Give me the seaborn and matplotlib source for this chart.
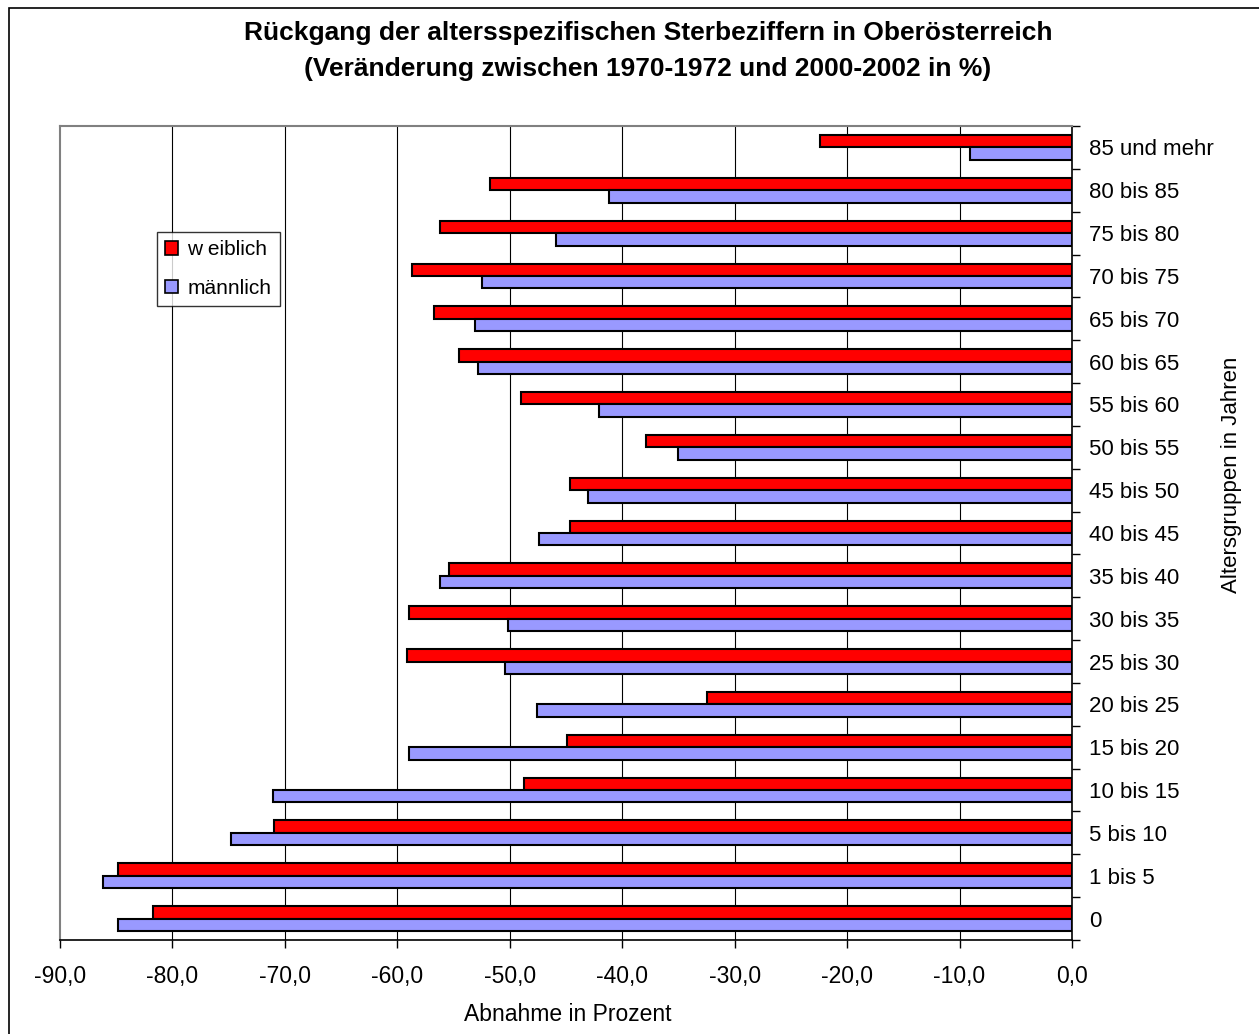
import matplotlib
matplotlib.use("Agg")
import matplotlib.pyplot as plt
import seaborn as sns
import pandas as pd
import numpy as np
from matplotlib.patches import Rectangle
from matplotlib.ticker import FixedLocator, FuncFormatter

categories = ["85 und mehr", "80 bis 85", "75 bis 80", "70 bis 75", "65 bis 70",
              "60 bis 65", "55 bis 60", "50 bis 55", "45 bis 50", "40 bis 45",
              "35 bis 40", "30 bis 35", "25 bis 30", "20 bis 25", "15 bis 20",
              "10 bis 15", "5 bis 10", "1 bis 5", "0"]
weiblich = [-22.4, -51.8, -56.2, -58.7, -56.7, -54.5, -49.0, -37.9, -44.6, -44.6,
            -55.4, -59.0, -59.1, -32.5, -44.9, -48.7, -71.0, -84.8, -81.7]
maennlich = [-9.1, -41.2, -45.9, -52.5, -53.1, -52.8, -42.1, -35.0, -43.0, -47.4,
             -56.2, -50.2, -50.4, -47.6, -59.0, -71.1, -74.8, -86.2, -84.8]
series_names = ["w eiblich", "männlich"]
x_ticks = [-90, -80, -70, -60, -50, -40, -30, -20, -10, 0]

df = pd.DataFrame({
    "Altersgruppe": categories * 2,
    "Wert": weiblich + maennlich,
    "Geschlecht": [series_names[0]] * len(categories) + [series_names[1]] * len(categories),
})

sns.set_theme(style="white")
plt.rcParams["font.family"] = ["Liberation Sans", "DejaVu Sans"]
plt.rcParams["text.color"] = "black"
plt.rcParams["axes.labelcolor"] = "black"
plt.rcParams["xtick.color"] = "black"
plt.rcParams["ytick.color"] = "black"

W, H = 1259, 1034
fig = plt.figure(figsize=(W / 100, H / 100), dpi=100)
ax = fig.add_axes([60 / W, 1 - 940 / H, (1072 - 60) / W, (940 - 126) / H])

sns.barplot(data=df, y="Altersgruppe", x="Wert", hue="Geschlecht",
            order=categories, hue_order=series_names,
            palette=["#FF0000", "#9999FF"], orient="h", width=0.58,
            edgecolor="black", linewidth=1.5, ax=ax, saturation=1, legend=True)

ax.set_xlim(-90, 0)
ax.set_ylim(len(categories) - 0.5, -0.5)

# grid lines
for t in x_ticks[1:-1]:
    ax.axvline(t, color="black", lw=0.8, zorder=0)

ax.xaxis.set_major_locator(FixedLocator(x_ticks))
ax.xaxis.set_major_formatter(FuncFormatter(lambda v, p: f"{v:.1f}".replace(".", ",")))
ax.tick_params(axis="x", which="major", direction="out", length=6, width=1, color="black",
               labelcolor="black", labelsize=16.5, pad=12, bottom=True)

ax.yaxis.tick_right()
ax.yaxis.set_label_position("right")
ax.tick_params(axis="y", which="major", length=0, labelsize=16, pad=12, labelcolor="black",
               right=False, left=False)
ax.set_yticks(np.arange(len(categories)))
ax.set_yticklabels(categories)
ax.yaxis.set_minor_locator(FixedLocator(np.arange(len(categories) + 1) - 0.5))
ax.tick_params(axis="y", which="minor", direction="out", length=6, width=1, color="black",
               right=True, left=False)

for s in ["left", "top"]:
    ax.spines[s].set_color("#808080")
    ax.spines[s].set_linewidth(1.5)
for s in ["right", "bottom"]:
    ax.spines[s].set_color("black")
    ax.spines[s].set_linewidth(1.2)

ax.set_xlabel("Abnahme in Prozent", fontsize=16.5, color="black")
ax.xaxis.set_label_coords((568 - 60) / 1012, (940 - 1003) / 814)
ax.set_ylabel("Altersgruppen in Jahren", fontsize=16, va="center", color="black")
ax.yaxis.set_label_coords((1232 - 60) / 1012, (940 - 475) / 814)

leg = ax.legend(loc="upper left", bbox_to_anchor=(157 / W, 1 - 232 / H),
                bbox_transform=fig.transFigure, frameon=True, fontsize=15,
                handlelength=0.6, handleheight=0.6, handletextpad=0.45,
                labelspacing=0.95, borderpad=0.4, borderaxespad=0, fancybox=False)
leg.get_frame().set_edgecolor("black")
leg.get_frame().set_linewidth(1)
for h in leg.legend_handles:
    h.set_edgecolor("black")
    h.set_linewidth(1.2)
for t in leg.get_texts():
    t.set_color("black")

fig.text(648 / W, 1 - 33 / H, "Rückgang der altersspezifischen Sterbeziffern in Oberösterreich",
         ha="center", va="center", fontsize=19, fontweight="bold", color="black")
fig.text(648 / W, 1 - 69 / H, "(Veränderung zwischen 1970-1972 und 2000-2002 in %)",
         ha="center", va="center", fontsize=19, fontweight="bold", color="black")

fig.patches.append(Rectangle((9 / W, -0.01), 1.05, 1 - 8 / H + 0.01, transform=fig.transFigure,
                             fill=False, edgecolor="black", lw=1.2))

fig.savefig("out.png", dpi=100, facecolor="white")
